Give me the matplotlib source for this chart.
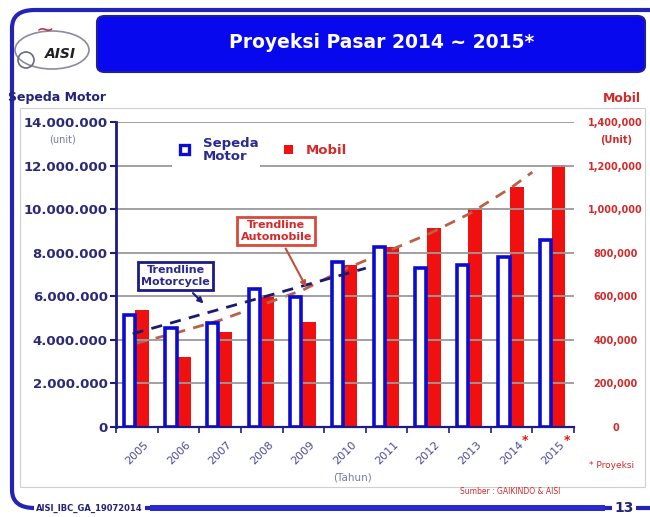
import matplotlib
matplotlib.use("Agg")
import matplotlib.pyplot as plt
import numpy as np
from matplotlib.patches import FancyBboxPatch, Rectangle, Ellipse
from matplotlib.transforms import blended_transform_factory

# data
tahun = ["2005", "2006", "2007", "2008", "2009", "2010",
         "2011", "2012", "2013", "2014", "2015"]
sepeda_motor = [5140000, 4540000, 4770000, 6350000, 5960000, 7570000,
                8260000, 7290000, 7430000, 7800000, 8580000]
mobil = [537000, 321000, 436000, 606000, 482000, 744000,
         826000, 913000, 1005000, 1102000, 1203000]
proyeksi = ["2014", "2015"]

# trendlines (position on the year axis, value)
trend_motor_x = [-0.1, 5.5]
trend_motor = [4280000, 7290000]
trend_mobil_x = [0, 1, 2, 3, 4, 5, 6, 7, 8, 9, 9.5]
trend_mobil = [385000, 435000, 490000, 560000, 630000, 725000,
               805000, 885000, 980000, 1100000, 1170000]

W, H = 650, 517
NAVY = "#1c1c82"
BLUE = "#0c0cd0"
RED = "#f01010"
RED_TXT = "#d42a2a"


def fx(x):
    return x / W


def fy(y):
    return 1 - y / H


fig = plt.figure(figsize=(6.5, 5.17), dpi=100)
fig.patch.set_facecolor("white")

# outer frame of the slide
frame = FancyBboxPatch((fx(12), fy(508)), fx(700) - fx(12), fy(10) - fy(508),
                       boxstyle="round,pad=0,rounding_size=0.035",
                       transform=fig.transFigure, facecolor="none",
                       edgecolor="#2323b8", lw=3, zorder=0)
fig.patches.append(frame)
fig.patches.append(Rectangle((fx(20), fy(487)), fx(645) - fx(20), fy(108) - fy(487),
                             transform=fig.transFigure, facecolor="none",
                             edgecolor="#cfcfcf", lw=0.8, zorder=0))

# title banner
banner = FancyBboxPatch((fx(97), fy(72)), fx(645) - fx(97), fy(16) - fy(72),
                        boxstyle="round,pad=0,rounding_size=0.012",
                        transform=fig.transFigure, facecolor="#0808ee",
                        edgecolor="#20209a", lw=1.5, zorder=1)
fig.patches.append(banner)
fig.text(fx(382), fy(43), "Proyeksi Pasar 2014 ~ 2015*", color="white",
         fontsize=13.5, fontweight="bold", ha="center", va="center")

# logo
fig.patches.append(Ellipse((fx(52), fy(50)), fx(74), 38 / H, transform=fig.transFigure,
                           facecolor="white", edgecolor="#8a8aa0", lw=1.2))
fig.patches.append(Ellipse((fx(26), fy(60)), fx(16), 16 / H, transform=fig.transFigure,
                           facecolor="none", edgecolor="#6a6a80", lw=1.2))
fig.text(fx(60), fy(54), "AISI", fontsize=10, fontweight="bold", style="italic",
         color="#202020", ha="center", va="center")
fig.text(fx(45), fy(30), "~", fontsize=16, color="#c03040", ha="center", va="center")

# axes
ax = fig.add_axes([fx(116), fy(427), fx(574) - fx(116), fy(122) - fy(427)])
ax2 = ax.twinx()
ax.set_zorder(2)
ax2.set_zorder(1)
ax.patch.set_visible(False)

x = np.arange(len(tahun))
ax.set_xlim(-0.5, len(tahun) - 0.5)
ax.set_ylim(0, 14000000)
ax2.set_ylim(0, 1400000)

ax.set_yticks(np.arange(0, 14000001, 2000000))
ax.yaxis.grid(True, color="#9a9a9a", lw=1.3)
ax.set_axisbelow(True)
ax.set_yticklabels([f"{int(v):,}".replace(",", ".") for v in ax.get_yticks()],
                   fontsize=9.5, fontweight="bold", color="#2a2a78")
ax.tick_params(axis="y", direction="out", length=4, width=1.5, color=NAVY, pad=2)

ax2.set_yticks(np.arange(0, 1400001, 200000))
ax2.set_yticklabels([f"{int(v):,}" for v in ax2.get_yticks()],
                    fontsize=7, fontweight="bold", color=RED_TXT)
ax2.tick_params(axis="y", length=0, pad=30)
for lbl in ax2.get_yticklabels():
    lbl.set_horizontalalignment("center")

for s in ["top", "right"]:
    ax.spines[s].set_visible(False)
for s in ["top", "right", "left", "bottom"]:
    ax2.spines[s].set_visible(False)
ax.spines["left"].set_color(NAVY)
ax.spines["left"].set_linewidth(2)
ax.spines["bottom"].set_color(NAVY)
ax.spines["bottom"].set_linewidth(1.6)

ax.set_xticks(x)
ax.set_xticklabels(tahun, rotation=45, fontsize=8, color="#4a4a9a", ha="center")
ax.tick_params(axis="x", length=0, pad=9)
ax.set_xticks(np.arange(-0.5, len(tahun), 1), minor=True)
ax.tick_params(axis="x", which="minor", length=4, width=1.2, color=NAVY)

# bars
w = 0.27
ax.bar(x - 0.18, sepeda_motor, width=w, facecolor="white", edgecolor=BLUE,
       lw=2.6, zorder=3)
ax2.bar(x + 0.13, mobil, width=0.33, color=RED, zorder=3)

# trendlines
ax.plot(trend_motor_x, trend_motor, ls=(0, (4, 3)), color="#1a1a70", lw=2, zorder=4)
ax2.plot(trend_mobil_x, trend_mobil, ls=(0, (4, 3)), color="#b8604a", lw=2, zorder=4)

# trendline callouts
ax.annotate("Trendline\nMotorcycle", xy=(1.65, 5580000), xytext=(0.93, 6930000),
            ha="center", va="center", fontsize=8, fontweight="bold", color="#2a2a90",
            bbox=dict(boxstyle="square,pad=0.3", fc="white", ec=NAVY, lw=2),
            arrowprops=dict(arrowstyle="-|>", color=NAVY, lw=1.5), zorder=6)
ax.annotate("Trendline\nAutomobile", xy=(4.1, 6310000), xytext=(3.35, 9000000),
            ha="center", va="center", fontsize=8, fontweight="bold", color=RED_TXT,
            bbox=dict(boxstyle="square,pad=0.3", fc="white", ec="#d84a3a", lw=2),
            arrowprops=dict(arrowstyle="-|>", color="#c0503a", lw=1.5), zorder=6)

# legend
fig.patches.append(Rectangle((fx(172), fy(175)), fx(88), 40 / H, transform=fig.transFigure,
                             facecolor="white", edgecolor="none", zorder=3))
fig.patches.append(Rectangle((fx(180), fy(154)), fx(9), 9 / H, transform=fig.transFigure,
                             facecolor="white", edgecolor=BLUE, lw=2.4, zorder=4))
fig.text(fx(203), fy(150), "Sepeda\nMotor", fontsize=9.5, fontweight="bold",
         color="#2a2a90", ha="left", va="center", linespacing=1.0, zorder=4)
fig.patches.append(Rectangle((fx(284), fy(154)), fx(9), 9 / H, transform=fig.transFigure,
                             facecolor=RED, edgecolor="none", zorder=4))
fig.text(fx(306), fy(150), "Mobil", fontsize=9.5, fontweight="bold", color=RED_TXT,
         ha="left", va="center")

# axis titles and notes
fig.text(fx(8), fy(98), "Sepeda Motor", fontsize=9, fontweight="bold", color="#22227a",
         ha="left", va="center")
fig.text(fx(641), fy(98), "Mobil", fontsize=9, fontweight="bold", color=RED_TXT,
         ha="right", va="center")
fig.text(fx(62), fy(139), "(unit)", fontsize=7, color="#7a7aa0", ha="center", va="center")
fig.text(fx(616), fy(140), "(Unit)", fontsize=7, fontweight="bold", color=RED_TXT,
         ha="center", va="center")
fig.text(fx(352), fy(478), "(Tahun)", fontsize=7.5, color="#7a7aa8", ha="center", va="center")
fig.text(fx(612), fy(466), "* Proyeksi", fontsize=6.5, color=RED_TXT, ha="center", va="center")

trans = blended_transform_factory(ax.transData, ax.transAxes)
for t in proyeksi:
    i = tahun.index(t)
    ax.text(i + 0.33, -0.045, "*", color=RED, fontsize=9, fontweight="bold",
            transform=trans, ha="center", va="center")

fig.text(fx(510), fy(492), "Sumber : GAIKINDO & AISI", fontsize=5.5, color=RED_TXT,
         ha="center", va="center")

# footer
fig.text(fx(36), fy(508), "AISI_IBC_GA_19072014", fontsize=6, fontweight="bold",
         color="#22227a", ha="left", va="center",
         bbox=dict(boxstyle="square,pad=0.25", fc="white", ec="none"))
fig.patches.append(Rectangle((fx(150), fy(511)), fx(605) - fx(150), 6 / H,
                             transform=fig.transFigure, facecolor="#2a2ad0",
                             edgecolor="none", zorder=2))
fig.text(fx(624), fy(508), "13", fontsize=10, fontweight="bold", color="#22227a",
         ha="center", va="center",
         bbox=dict(boxstyle="square,pad=0.2", fc="white", ec="none"))

fig.savefig("out.png", dpi=100)
